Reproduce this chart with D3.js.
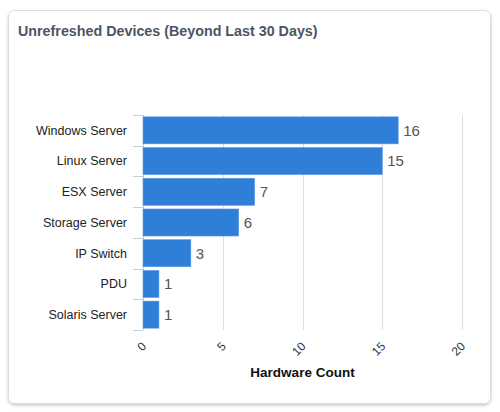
<!DOCTYPE html>
<html><head><meta charset="utf-8">
<script src="https://cdn.jsdelivr.net/npm/d3@7"></script>
<style>
body{margin:0;background:#fff;font-family:"Liberation Sans",Arial,Helvetica,sans-serif;}
</style></head>
<body>
<script>
const categories = ["Windows Server","Linux Server","ESX Server","Storage Server","IP Switch","PDU","Solaris Server"];
const values = [16,15,7,6,3,1,1];
const xTicks = [0,5,10,15,20];
const title = "Unrefreshed Devices (Beyond Last 30 Days)";
const xTitle = "Hardware Count";

const W=500,H=412;
const svg=d3.select("body").append("svg").attr("width",W).attr("height",H);
const defs=svg.append("defs");
const f=defs.append("filter").attr("id","sh").attr("x","-5%").attr("y","-5%").attr("width","110%").attr("height","110%");
f.append("feDropShadow").attr("dx",0).attr("dy",1.5).attr("stdDeviation",1.5).attr("flood-color","#000").attr("flood-opacity",0.22);

svg.append("rect").attr("x",8.5).attr("y",10.5).attr("width",482).attr("height",393).attr("rx",6)
  .attr("fill","#fff").attr("stroke","#dcdcdc").attr("filter","url(#sh)");

svg.append("text").attr("x",18).attr("y",36).text(title)
  .attr("font-size",14.3).attr("font-weight","bold").attr("fill","#4b5563");

const m={l:143,r:462,t:115,b:330};
const x=d3.scaleLinear().domain([0,20]).range([m.l,m.r]);
const y=d3.scaleBand().domain(categories).range([m.t,m.b]).paddingInner(0.12).paddingOuter(0.06);

// gridlines
svg.append("g").selectAll("line").data(xTicks.filter(d=>d>0)).join("line")
  .attr("x1",d=>Math.round(x(d))+0.5).attr("x2",d=>Math.round(x(d))+0.5)
  .attr("y1",m.t).attr("y2",m.b).attr("stroke","#dedede");

// y axis
const yb=d3.scaleBand().domain(categories).range([m.t,m.b]);
const ga=svg.append("g");
ga.append("line").attr("x1",m.l+0.5).attr("x2",m.l+0.5).attr("y1",m.t).attr("y2",m.b).attr("stroke","#c0d0e0");
const bounds=categories.map(c=>yb(c)).concat([m.b]);
ga.selectAll("line.tk").data(bounds).join("line").attr("class","tk")
  .attr("x1",m.l-10).attr("x2",m.l).attr("y1",d=>Math.round(d)+0.5).attr("y2",d=>Math.round(d)+0.5).attr("stroke","#c0d0e0");
ga.selectAll("text").data(categories).join("text")
  .attr("x",m.l-16).attr("y",d=>yb(d)+yb.bandwidth()/2).attr("dy","0.35em")
  .attr("text-anchor","end").attr("font-size",12.5).attr("fill","#222").text(d=>d);

// bars
svg.append("g").selectAll("rect").data(values).join("rect")
  .attr("x",m.l).attr("y",(d,i)=>y(categories[i]))
  .attr("width",d=>x(d)-x(0)).attr("height",y.bandwidth())
  .attr("fill","#2f7ed8").attr("stroke","#5a9ae3").attr("stroke-width",0.6);

// value labels
svg.append("g").selectAll("text").data(values).join("text")
  .attr("x",d=>x(d)+5).attr("y",(d,i)=>y(categories[i])+y.bandwidth()/2).attr("dy","0.36em")
  .attr("font-size",15).attr("fill","#555").text(d=>d);

// x tick labels
svg.append("g").selectAll("text").data(xTicks).join("text")
  .attr("transform",d=>`translate(${x(d)+1},${344}) rotate(-45)`)
  .attr("text-anchor","end").attr("dy","0.35em")
  .attr("font-size",12).attr("fill","#333").text(d=>d);

svg.append("text").attr("x",(m.l+m.r)/2).attr("y",377).attr("text-anchor","middle")
  .attr("font-size",13.5).attr("font-weight","bold").attr("fill","#111").text(xTitle);
</script>
</body></html>
